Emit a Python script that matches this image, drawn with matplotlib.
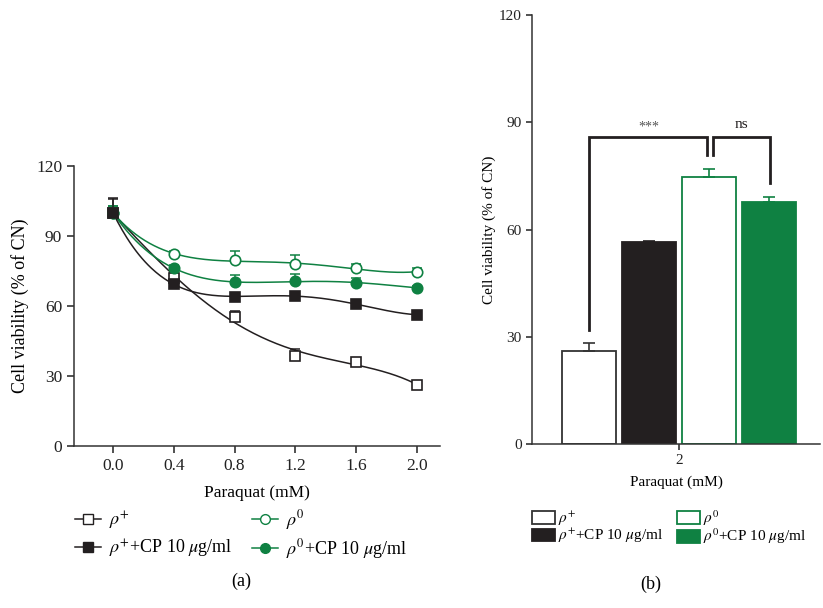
import numpy as np
import matplotlib
matplotlib.use('Agg')
import matplotlib.pyplot as plt
from matplotlib.lines import Line2D
from matplotlib.patches import Patch

plt.rcParams['font.family'] = ['Liberation Serif', 'DejaVu Serif']
plt.rcParams['mathtext.fontset'] = 'stix'

GREEN = '#0f8142'
DARK = '#231f20'

# ---- data, panel (a) ----
paraquat = [0.0, 0.4, 0.8, 1.2, 1.6, 2.0]
rho_plus = [100, 72, 55.2, 38.7, 35.9, 26.1]
rho_plus_err = [6, 3, 2.8, 2.9, 1.5, 1.5]
rho_plus_cp = [100, 69.4, 64.0, 64.4, 60.7, 56.3]
rho_plus_cp_err = [6.5, 5, 1.5, 1.5, 2, 1]
rho_zero = [100, 82.3, 79.7, 77.9, 76.1, 74.7]
rho_zero_err = [3, 1.5, 3.7, 4, 2, 1.5]
rho_zero_cp = [100, 76.3, 70.2, 70.6, 70.0, 67.8]
rho_zero_cp_err = [3, 1.5, 3, 3, 2, 1]

# ---- data, panel (b) ----
bar_labels = [r'$\rho^{+}$', r'$\rho^{+}$+CP 10 $\mu$g/ml',
              r'$\rho^{0}$', r'$\rho^{0}$+CP 10 $\mu$g/ml']
bar_values = [26.1, 56.4, 74.7, 67.7]
bar_err = [2.2, 0.5, 2.2, 1.5]


fig = plt.figure(figsize=(8.23, 6.08), dpi=100)

# ---------------- panel (a) ----------------
ax = fig.add_axes([0.0899, 0.2664, 0.4447, 0.4605])
xs = np.linspace(0, 2.0, 200)
series = [
    (rho_plus, rho_plus_err, 's', 'white', DARK),
    (rho_zero, rho_zero_err, 'o', 'white', GREEN),
    (rho_zero_cp, rho_zero_cp_err, 'o', GREEN, GREEN),
    (rho_plus_cp, rho_plus_cp_err, 's', DARK, DARK),
]
for vals, err, mk, fc, ec in series:
    # smooth fitted curve through the measured points
    coef = np.polyfit(paraquat, vals, 4)
    ax.plot(xs, np.polyval(coef, xs), color=ec, lw=1.1, zorder=2)
    ax.errorbar(paraquat, vals, yerr=[np.zeros(len(err)), err], fmt='none',
                ecolor=ec, elinewidth=1.1, capsize=3.5, capthick=1.1, zorder=3)
    ax.plot(paraquat, vals, mk, ms=7.5, mfc=fc, mec=ec, mew=1.2, ls='none', zorder=4)

ax.set_xlim(-0.256, 2.15)
ax.set_ylim(0, 120)
ax.set_xticks(paraquat)
ax.set_xticklabels(['%.1f' % v for v in paraquat])
ax.set_yticks([0, 30, 60, 90, 120])
for s in ['top', 'right']:
    ax.spines[s].set_visible(False)
for s in ['left', 'bottom']:
    ax.spines[s].set_linewidth(1.1)
    ax.spines[s].set_color('#333333')
ax.tick_params(direction='out', length=5, width=1.1, labelsize=12.5, colors='#222222')
ax.set_xlabel('Paraquat (mM)', fontsize=12.5, labelpad=8)
ax.set_ylabel('Cell viability (% of CN)', fontsize=13, labelpad=5)

handles_a = [
    Line2D([], [], color=DARK, marker='s', mfc='white', mec=DARK, ms=7, lw=1.1),
    Line2D([], [], color=DARK, marker='s', mfc=DARK, mec=DARK, ms=7, lw=1.1),
    Line2D([], [], color=GREEN, marker='o', mfc='white', mec=GREEN, ms=7, lw=1.1),
    Line2D([], [], color=GREEN, marker='o', mfc=GREEN, mec=GREEN, ms=7, lw=1.1),
]
fig.legend(handles_a, bar_labels, loc='upper left', bbox_to_anchor=(75 / 823, 1 - 508 / 608),
           ncol=2, frameon=False, fontsize=13, handlelength=1.45, handletextpad=0.45,
           columnspacing=1.05, labelspacing=0.3, borderpad=0, borderaxespad=0)

fig.text(241 / 823, 1 - 581 / 608, '(a)', ha='center', va='center', fontsize=13)

# ---------------- panel (b) ----------------
bx = fig.add_axes([0.6464, 0.2697, 0.35, 0.7056])
pos = [-1.5, -0.5, 0.5, 1.5]
faces = ['white', DARK, 'white', GREEN]
edges = ['#333333', DARK, GREEN, GREEN]
bx.bar(pos, bar_values, width=0.91, color=faces, edgecolor=edges, linewidth=1.3, zorder=2)
for p, v, e, c in zip(pos, bar_values, bar_err, edges):
    bx.errorbar([p], [v], yerr=[[0], [e]], fmt='none',
                ecolor=c, elinewidth=1.2, capsize=4, capthick=1.2, zorder=3)

# significance brackets
bx.plot([-1.5, -1.5, 0.47, 0.47], [31.9, 86.0, 86.0, 80.8], color=DARK, lw=2, solid_joinstyle='miter')
bx.plot([0.56, 0.56, 1.52, 1.52], [80.8, 86.0, 86.0, 73.1], color=DARK, lw=2, solid_joinstyle='miter')
bx.text(-0.5, 88.6, '***', ha='center', va='center', fontsize=10, color='#555555')
bx.text(1.04, 89.3, 'ns', ha='center', va='center', fontsize=11, color=DARK)

bx.set_xlim(-2.45, 2.35)
bx.set_ylim(0, 120)
bx.set_xticks([0])
bx.set_xticklabels(['2'])
bx.set_yticks([0, 30, 60, 90, 120])
for s in ['top', 'right']:
    bx.spines[s].set_visible(False)
for s in ['left', 'bottom']:
    bx.spines[s].set_linewidth(1.1)
    bx.spines[s].set_color('#333333')
bx.tick_params(direction='out', length=4, width=1.1, labelsize=11, colors='#222222')
bx.set_xlabel('Paraquat (mM)', fontsize=11, labelpad=6)
bx.set_ylabel('Cell viability (% of CN)', fontsize=11, labelpad=2)

handles_b = [Patch(facecolor=f, edgecolor=e, linewidth=1.3) for f, e in zip(faces, edges)]
fig.legend(handles_b, bar_labels, loc='upper left', bbox_to_anchor=(532 / 823, 1 - 508 / 608),
           ncol=2, frameon=False, fontsize=11, handlelength=1.5, handleheight=0.9,
           handletextpad=0.2, columnspacing=0.9, labelspacing=-0.05, borderpad=0, borderaxespad=0)

fig.text(651 / 823, 1 - 584 / 608, '(b)', ha='center', va='center', fontsize=13)

fig.savefig('out.png', dpi=100)
